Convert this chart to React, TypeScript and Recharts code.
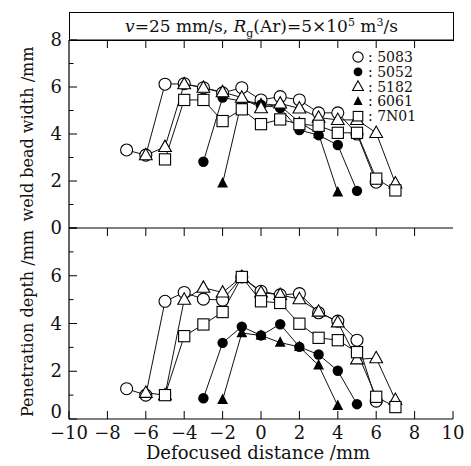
import React from 'react';
import { LineChart, Line, XAxis, YAxis, Legend } from 'recharts';

const FONT = '"DejaVu Serif", serif';

// x positions (defocused distance, mm)
const x5083 = [-7, -6, -5, -4, -3, -2, -1, 0, 1, 2, 3, 4, 5, 6];
const x5052 = [-3, -2, -1, 0, 1, 2, 3, 4, 5];
const x5182 = [-6, -5, -4, -3, -2, -1, 0, 1, 2, 3, 4, 5, 6, 7];
const x6061 = [-2, -1, 0, 1, 2, 3, 4];
const x7N01 = [-5, -4, -3, -2, -1, 0, 1, 2, 3, 4, 5, 6, 7];

// weld bead width (mm)
const width5083 = [3.32, 3.1, 6.12, 6.14, 5.97, 5.75, 5.97, 5.45, 5.59, 5.45, 4.9, 4.9, 4.0, 1.95];
const width5052 = [2.82, 5.55, 5.4, 5.25, 5.1, 4.17, 3.95, 3.53, 1.58];
const width5182 = [3.1, 3.45, 6.12, 5.97, 5.78, 5.55, 5.1, 5.3, 5.09, 4.7, 4.6, 4.6, 4.05, 1.9];
const width6061 = [1.9, 5.42, 5.3, 5.2, 4.5, 4.0, 1.52];
const width7N01 = [2.92, 5.45, 5.45, 4.55, 5.05, 4.42, 4.62, 4.42, 4.35, 4.05, 4.05, 2.1, 1.6];

// penetration depth (mm)
const depth5083 = [1.27, 1.0, 4.93, 5.3, 5.02, 4.98, 5.95, 5.35, 5.2, 5.25, 4.45, 4.1, 3.3, 0.75];
const depth5052 = [0.87, 3.19, 3.87, 3.5, 3.97, 3.02, 2.7, 2.02, 0.62];
const depth5182 = [1.1, 1.0, 5.0, 5.5, 5.3, 5.95, 5.3, 5.2, 5.02, 4.5, 4.05, 2.5, 2.55, 0.8];
const depth6061 = [0.8, 3.6, 3.5, 3.2, 3.02, 2.25, 0.55];
const depth7N01 = [1.0, 3.47, 3.96, 4.48, 5.95, 4.93, 4.86, 3.99, 3.4, 3.3, 2.8, 0.93, 0.5];

const xTicks = [-10, -8, -6, -4, -2, 0, 2, 4, 6, 8, 10];
const yTicks = [0, 1, 2, 3, 4, 5, 6, 7, 8];
const topYLabels = [0, 2, 4, 6, 8];
const bottomYLabels = [0, 2, 4, 6];

const seriesNames = ['5083', '5052', '5182', '6061', '7N01'];
const drawOrder = ['5083', '5052', '6061', '5182', '7N01'];
const markerOf: Record<string, string> = {
  '5083': 'circleOpen',
  '5052': 'circleFilled',
  '5182': 'triOpen',
  '6061': 'triFilled',
  '7N01': 'square',
};

const zip = (xs: number[], ys: number[]) => xs.map((x, i) => ({ x, y: ys[i] }));

const topData: Record<string, { x: number; y: number }[]> = {
  '5083': zip(x5083, width5083),
  '5052': zip(x5052, width5052),
  '5182': zip(x5182, width5182),
  '6061': zip(x6061, width6061),
  '7N01': zip(x7N01, width7N01),
};
const bottomData: Record<string, { x: number; y: number }[]> = {
  '5083': zip(x5083, depth5083),
  '5052': zip(x5052, depth5052),
  '5182': zip(x5182, depth5182),
  '6061': zip(x6061, depth6061),
  '7N01': zip(x7N01, depth7N01),
};

function Marker({ kind, cx, cy, s = 1 }: { kind: string; cx: number; cy: number; s?: number }) {
  if (cx == null || cy == null) return null;
  switch (kind) {
    case 'circleOpen':
      return <circle cx={cx} cy={cy} r={6 * s} fill="#fff" stroke="#000" strokeWidth={1.1} />;
    case 'circleFilled':
      return <circle cx={cx} cy={cy} r={5.2 * s} fill="#000" />;
    case 'triOpen':
      return (
        <polygon
          points={`${cx},${cy - 6.8 * s} ${cx - 6.4 * s},${cy + 4.6 * s} ${cx + 6.4 * s},${cy + 4.6 * s}`}
          fill="#fff"
          stroke="#000"
          strokeWidth={1.1}
        />
      );
    case 'triFilled':
      return (
        <polygon
          points={`${cx},${cy - 6.3 * s} ${cx - 5.4 * s},${cy + 4.2 * s} ${cx + 5.4 * s},${cy + 4.2 * s}`}
          fill="#000"
        />
      );
    default:
      return (
        <rect x={cx - 5.6 * s} y={cy - 5.6 * s} width={11.2 * s} height={11.2 * s} fill="#fff" stroke="#000" strokeWidth={1.1} />
      );
  }
}

const fmt = (v: number) => (v < 0 ? '\u2212' + Math.abs(v) : String(v));

const LeftTick = (labels: number[], lowZeroShift: number) => (props: any) => {
  const { x, y, payload } = props;
  const v = payload.value;
  const major = v % 2 === 0;
  const dy = v === 0 ? lowZeroShift : 0;
  return (
    <g>
      <line x1={x} x2={x + (major ? 8 : 4.5)} y1={y} y2={y} stroke="#000" strokeWidth={1} />
      {labels.includes(v) && (
        <text x={x - 7} y={y + 6 + dy} textAnchor="end" fontFamily={FONT} fontSize={18} fill="#111">
          {v}
        </text>
      )}
    </g>
  );
};

const RightTick = (props: any) => {
  const { x, y, payload } = props;
  const major = payload.value % 2 === 0;
  return <line x1={x} x2={x - (major ? 8 : 4.5)} y1={y} y2={y} stroke="#000" strokeWidth={1} />;
};

const BottomTick = (showLabels: boolean) => (props: any) => {
  const { x, y, payload } = props;
  return (
    <g>
      <line x1={x} x2={x} y1={y} y2={y - 8} stroke="#000" strokeWidth={1} />
      {showLabels && (
        <text x={x} y={y + 20} textAnchor="middle" fontFamily={FONT} fontSize={18} fill="#111">
          {fmt(payload.value)}
        </text>
      )}
    </g>
  );
};

const TopTick = (props: any) => {
  const { x, y } = props;
  return <line x1={x} x2={x} y1={y} y2={y + 8} stroke="#000" strokeWidth={1} />;
};

const YTitle = (title: string) => (props: any) => {
  const vb = props.viewBox;
  const cx = 27;
  const cy = vb.y + vb.height / 2;
  return (
    <text
      x={cx}
      y={cy}
      transform={`rotate(-90 ${cx} ${cy})`}
      textAnchor="middle"
      dominantBaseline="central"
      fontFamily={FONT}
      fontSize={16}
      fill="#111"
    >
      {title}
    </text>
  );
};

const XTitle = (props: any) => {
  const vb = props.viewBox;
  return (
    <text x={vb.x + vb.width / 2 - 3} y={vb.y + 40} textAnchor="middle" fontFamily={FONT} fontSize={18} fill="#111">
      Defocused distance /mm
    </text>
  );
};

const LegendContent = () => (
  <svg width={110} height={80} style={{ display: 'block' }}>
    {seriesNames.map((n, i) => (
      <g key={n}>
        <Marker kind={markerOf[n]} cx={8} cy={8 + i * 14.8} s={0.85} />
        <text x={18} y={8 + i * 14.8 + 5} fontFamily={FONT} fontSize={14} fill="#111">
          {': ' + n}
        </text>
      </g>
    ))}
  </svg>
);

function Panel({
  data,
  marginTop,
  marginBottom,
  xAxisHeight,
  showXLabels,
  yLabels,
  zeroShift,
  yTitle,
  withLegend,
}: {
  data: Record<string, { x: number; y: number }[]>;
  marginTop: number;
  marginBottom: number;
  xAxisHeight: number;
  showXLabels: boolean;
  yLabels: number[];
  zeroShift: number;
  yTitle: string;
  withLegend: boolean;
}) {
  return (
    <LineChart width={471} height={466} margin={{ top: marginTop, right: 18, bottom: marginBottom, left: 0 }}>
      <XAxis
        dataKey="x"
        type="number"
        domain={[-10, 10]}
        allowDataOverflow
        ticks={xTicks}
        interval={0}
        tickSize={0}
        tickMargin={0}
        tickLine={false}
        height={xAxisHeight}
        axisLine={{ stroke: '#000', strokeWidth: 1.2 }}
        tick={BottomTick(showXLabels)}
        label={showXLabels ? XTitle : undefined}
      />
      <XAxis
        xAxisId="top"
        orientation="top"
        dataKey="x"
        type="number"
        domain={[-10, 10]}
        allowDataOverflow
        ticks={xTicks.slice(1, -1)}
        interval={0}
        tickSize={0}
        tickMargin={0}
        tickLine={false}
        height={1}
        axisLine={{ stroke: '#000', strokeWidth: 1.2 }}
        tick={TopTick}
      />
      <YAxis
        type="number"
        domain={[0, 8]}
        allowDataOverflow
        ticks={yTicks}
        interval={0}
        tickSize={0}
        tickMargin={0}
        tickLine={false}
        width={69}
        axisLine={{ stroke: '#000', strokeWidth: 1.2 }}
        tick={LeftTick(yLabels, zeroShift)}
        label={YTitle(yTitle)}
      />
      <YAxis
        yAxisId="r"
        orientation="right"
        type="number"
        domain={[0, 8]}
        allowDataOverflow
        ticks={yTicks}
        interval={0}
        tickSize={0}
        tickMargin={0}
        tickLine={false}
        width={0}
        axisLine={{ stroke: '#000', strokeWidth: 1.2 }}
        tick={RightTick}
      />
      {withLegend && (
        <Legend
          layout="vertical"
          align="center"
          verticalAlign="middle"
          content={LegendContent}
          wrapperStyle={{ position: 'absolute', left: 350, top: 49, width: 110, height: 80 }}
        />
      )}
      {drawOrder.map((n) => (
        <Line
          key={n}
          name={n}
          data={data[n]}
          dataKey="y"
          stroke="#111"
          strokeWidth={1}
          isAnimationActive={false}
          dot={(p: any) => <Marker key={`${n}-${p.index}`} kind={markerOf[n]} cx={p.cx} cy={p.cy} />}
          activeDot={false}
          legendType="none"
        />
      ))}
    </LineChart>
  );
}

export default function App() {
  return (
    <div style={{ position: 'absolute', left: 0, top: 0, width: 471, height: 466, background: '#fff' }}>
      <div
        style={{
          position: 'absolute',
          left: 69,
          top: 12,
          width: 385,
          height: 29,
          boxSizing: 'border-box',
          border: '1.2px solid #000',
          fontFamily: FONT,
          fontSize: 17,
          color: '#111',
          textAlign: 'center',
          lineHeight: '26px',
          whiteSpace: 'nowrap',
        }}
      >
        <i>v</i>=25 mm/s, <i>R</i>
        <span style={{ fontSize: 11, position: 'relative', top: 5 }}>g</span>(Ar)=5×10
        <span style={{ fontSize: 11, position: 'relative', top: -6 }}>5</span> m
        <span style={{ fontSize: 11, position: 'relative', top: -6 }}>3</span>/s
      </div>
      <div style={{ position: 'absolute', left: 0, top: 0 }}>
        <Panel
          data={topData}
          marginTop={39}
          marginBottom={238}
          xAxisHeight={0}
          showXLabels={false}
          yLabels={topYLabels}
          zeroShift={0}
          yTitle="weld bead width /mm"
          withLegend
        />
      </div>
      <div style={{ position: 'absolute', left: 0, top: 0 }}>
        <Panel
          data={bottomData}
          marginTop={227}
          marginBottom={0}
          xAxisHeight={47}
          showXLabels
          yLabels={bottomYLabels}
          zeroShift={-7}
          yTitle="Penetration depth /mm"
          withLegend={false}
        />
      </div>
    </div>
  );
}
